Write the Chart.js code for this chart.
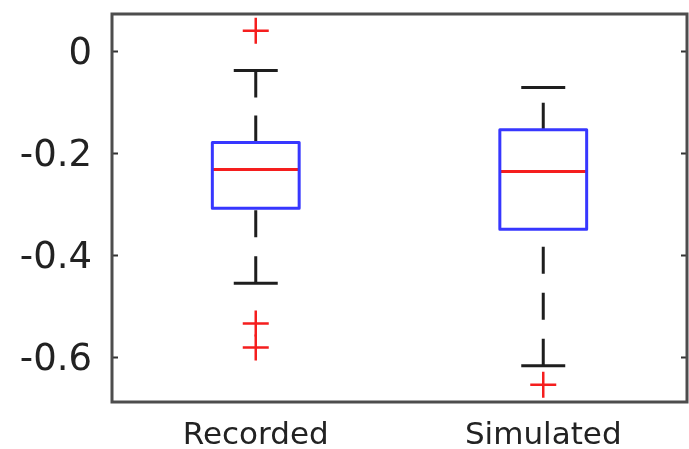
<!DOCTYPE html>
<html>
<head>
<meta charset="utf-8">
<script src="https://cdn.jsdelivr.net/npm/chart.js@4/dist/chart.umd.min.js"></script>
<style>
  html, body { margin: 0; padding: 0; background: #ffffff; overflow: hidden; }
  canvas { display: block; }
</style>
</head>
<body>
<canvas id="chart" width="689" height="449"></canvas>
<script>
// Box plot summary per group
const categories = ['Recorded', 'Simulated'];
const lowerWhisker = [-0.456, -0.618];
const q1 = [-0.309, -0.350];
const median = [-0.233, -0.237];
const q3 = [-0.180, -0.155];
const upperWhisker = [-0.039, -0.072];
const outliers = [[0.039, -0.535, -0.582], [-0.655]];
const yTicks = [0, -0.2, -0.4, -0.6];
const yMin = -0.689;
const yMax = 0.072;

// Drawing styles
const BOX_HALF = 0.151;   // half box width in x units
const CAP_HALF = 0.0765;  // half whisker-cap width in x units
const BLUE = 'rgb(55,55,255)';
const RED = 'rgb(245,30,30)';
const BLACK = '#1e1e1e';

const datasets = [];
categories.forEach((name, i) => {
  const x = i + 1;
  // box outline
  datasets.push({
    data: [
      { x: x - BOX_HALF, y: q1[i] }, { x: x + BOX_HALF, y: q1[i] },
      { x: x + BOX_HALF, y: q3[i] }, { x: x - BOX_HALF, y: q3[i] },
      { x: x - BOX_HALF, y: q1[i] }
    ],
    borderColor: BLUE, borderWidth: 3, borderJoinStyle: 'round', borderCapStyle: 'round'
  });
  // whiskers, drawn from the lower value upward
  datasets.push({
    data: [{ x: x, y: q3[i] }, { x: x, y: upperWhisker[i] }],
    borderColor: BLACK, borderWidth: 3, borderDash: [27, 18]
  });
  datasets.push({
    data: [{ x: x, y: lowerWhisker[i] }, { x: x, y: q1[i] }],
    borderColor: BLACK, borderWidth: 3, borderDash: [27, 19]
  });
  // whisker caps
  datasets.push({
    data: [{ x: x - CAP_HALF, y: upperWhisker[i] }, { x: x + CAP_HALF, y: upperWhisker[i] }],
    borderColor: BLACK, borderWidth: 3
  });
  datasets.push({
    data: [{ x: x - CAP_HALF, y: lowerWhisker[i] }, { x: x + CAP_HALF, y: lowerWhisker[i] }],
    borderColor: BLACK, borderWidth: 3
  });
  // median
  datasets.push({
    data: [{ x: x - BOX_HALF, y: median[i] }, { x: x + BOX_HALF, y: median[i] }],
    borderColor: RED, borderWidth: 3
  });
  // outliers
  datasets.push({
    data: outliers[i].map(v => ({ x: x, y: v })),
    showLine: false,
    pointStyle: 'cross',
    pointRadius: 13,
    pointBorderColor: RED,
    pointBorderWidth: 2.5
  });
});
datasets.forEach(d => {
  d.fill = false;
  d.tension = 0;
  if (d.pointRadius === undefined) d.pointRadius = 0;
});

// Axes frame with inward tick marks on both sides
const framePlugin = {
  id: 'frame',
  afterDraw(chart) {
    const { ctx, chartArea: a, scales } = chart;
    ctx.save();
    ctx.strokeStyle = '#333333';
    ctx.lineWidth = 2;
    yTicks.forEach(v => {
      const y = Math.round(scales.y.getPixelForValue(v)) + 0.5;
      ctx.beginPath();
      ctx.moveTo(a.left, y); ctx.lineTo(a.left + 6, y);
      ctx.moveTo(a.right, y); ctx.lineTo(a.right - 6, y);
      ctx.stroke();
    });
    ctx.strokeStyle = '#4d4d4d';
    ctx.lineWidth = 3;
    ctx.strokeRect(a.left, a.top, a.right - a.left, a.bottom - a.top);
    ctx.restore();
  }
};

// Keep the plot box fixed: no extra room reserved for edge labels
function noEdgePadding(s) {
  s.paddingTop = 0; s.paddingBottom = 0; s.paddingLeft = 0; s.paddingRight = 0;
}

new Chart(document.getElementById('chart'), {
  type: 'line',
  data: { datasets },
  options: {
    responsive: false,
    devicePixelRatio: 1,
    animation: false,
    layout: { autoPadding: false, padding: { left: 0, top: 14, right: 2, bottom: 0 } },
    plugins: { legend: { display: false }, tooltip: { enabled: false } },
    scales: {
      x: {
        type: 'linear',
        min: 0.5,
        max: 2.5,
        afterBuildTicks: s => { s.ticks = categories.map((_, i) => ({ value: i + 1 })); },
        afterFit: s => { s.height = 47; noEdgePadding(s); },
        grid: { display: false, drawTicks: false },
        border: { display: false },
        ticks: {
          autoSkip: false,
          maxRotation: 0,
          padding: 15,
          color: '#222222',
          font: { family: 'DejaVu Sans', size: 31 },
          callback: v => categories[Math.round(v) - 1] ?? ''
        }
      },
      y: {
        type: 'linear',
        min: yMin,
        max: yMax,
        afterBuildTicks: s => { s.ticks = yTicks.map(v => ({ value: v })); },
        afterFit: s => { s.width = 112; noEdgePadding(s); },
        grid: { display: false, drawTicks: false },
        border: { display: false },
        ticks: {
          padding: 20,
          labelOffset: 4,
          color: '#222222',
          font: { family: 'DejaVu Sans', size: 37 },
          callback: v => String(Math.round(v * 10) / 10)
        }
      }
    }
  },
  plugins: [framePlugin]
});
</script>
</body>
</html>
